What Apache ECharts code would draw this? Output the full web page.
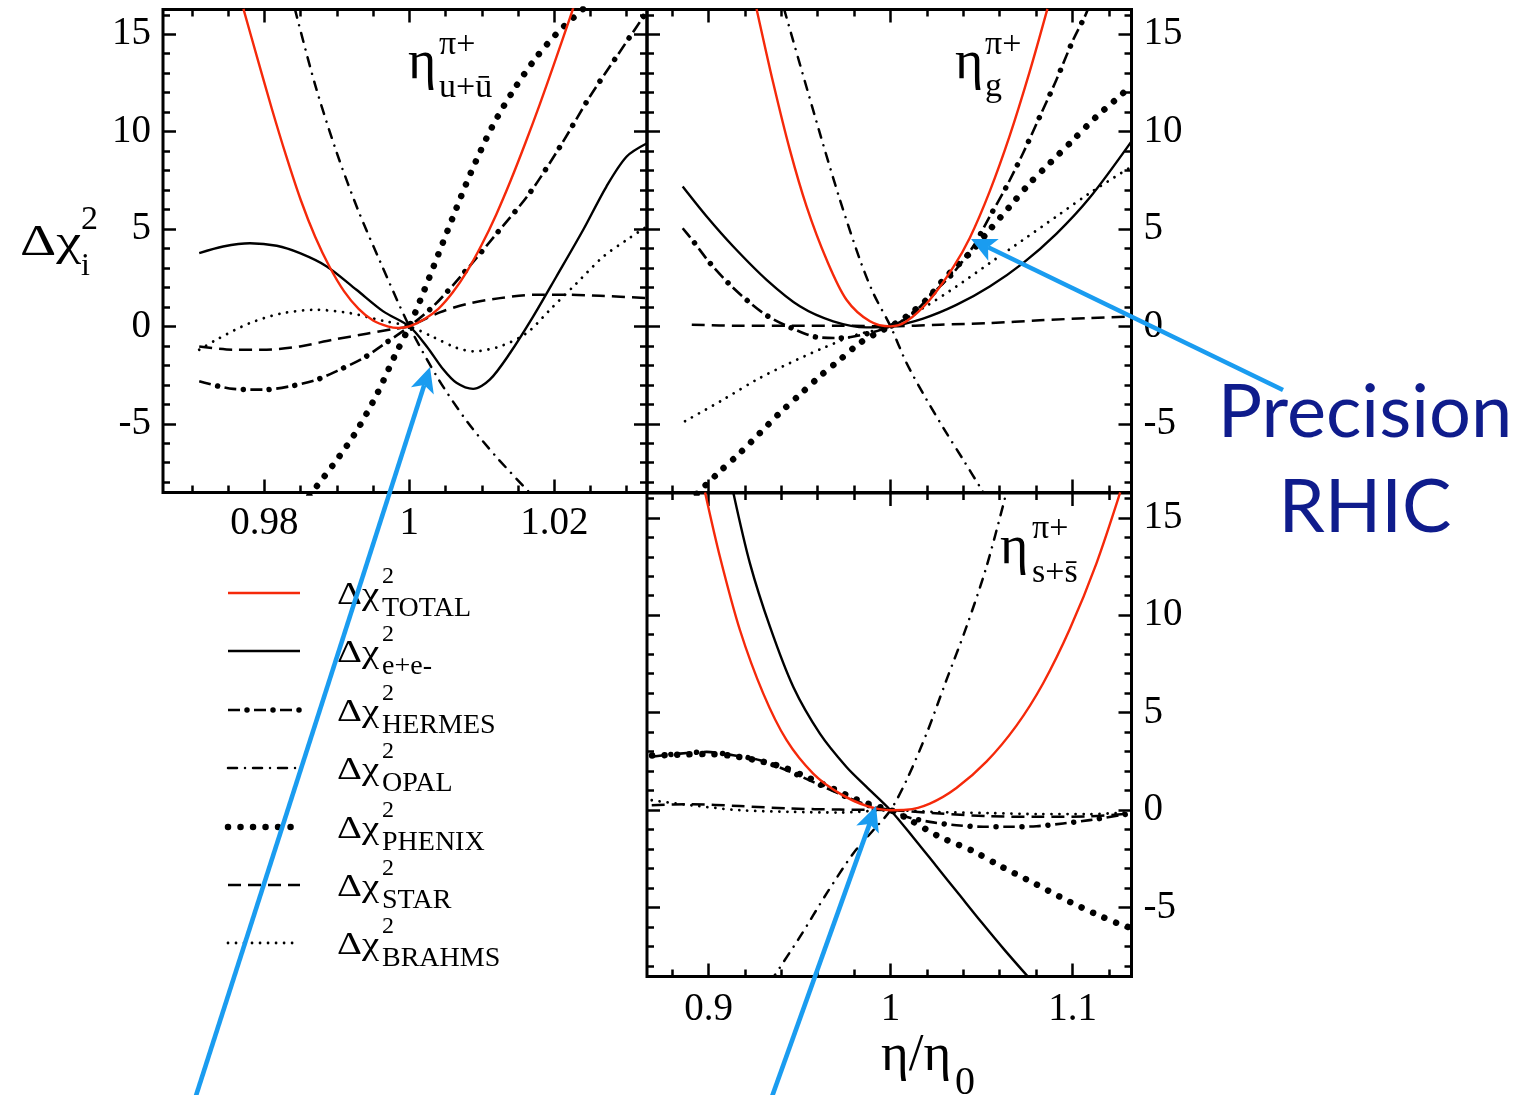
<!DOCTYPE html>
<html><head><meta charset="utf-8">
<script src="https://cdn.jsdelivr.net/npm/echarts@6/dist/echarts.min.js"></script>
<style>html,body{margin:0;padding:0;background:#fff}#c{width:1532px;height:1095px}</style>
</head><body><div id="c"></div><script>
// ---------- tick values / labels ----------
const xTicksU = [0.98, 1, 1.02];
const xTickLabelsU = ['0.98', '1', '1.02'];
const xMinorU = [0.97, 0.975, 0.98, 0.985, 0.99, 0.995, 1, 1.005, 1.01, 1.015, 1.02, 1.025, 1.03];
const xTicksGS = [0.9, 1, 1.1];
const xTickLabelsGS = ['0.9', '1', '1.1'];
const xMinorGS = [0.88, 0.9, 0.92, 0.94, 0.96, 0.98, 1, 1.02, 1.04, 1.06, 1.08, 1.1, 1.12];
const yTicks = [-5, 0, 5, 10, 15];
const yTickLabels = ['-5', '0', '5', '10', '15'];
const yMinor = [-8,-7,-6,-5,-4,-3,-2,-1,0,1,2,3,4,5,6,7,8,9,10,11,12,13,14,15,16];
const legendNames = ['TOTAL', 'e+e-', 'HERMES', 'OPAL', 'PHENIX', 'STAR', 'BRAHMS'];

// ---------- panel 1 : eta_{u+ubar} ----------
const u_total = [[0.9771,16.3],[0.9790,13.8],[0.9810,11.2],[0.9830,8.75],[0.9850,6.5],[0.9870,4.6],[0.9890,3.05],[0.9910,1.8],[0.9930,0.9],[0.9950,0.3],[0.9970,0.0],[0.9985,-0.08],[1.0,0],[1.002,0.35],[1.004,0.9],[1.006,1.75],[1.008,2.85],[1.010,4.2],[1.012,5.75],[1.014,7.5],[1.016,9.4],[1.018,11.4],[1.020,13.5],[1.0224,16.1],[1.0227,16.45]];
const u_ee = [[0.9710,3.76],[0.9743,4.1],[0.9780,4.27],[0.9817,4.14],[0.9849,3.76],[0.9886,3.08],[0.9927,1.88],[0.9964,0.77],[1.0,0],[1.0024,-1.03],[1.0047,-2.22],[1.0065,-2.9],[1.0088,-3.21],[1.0111,-2.74],[1.0139,-1.37],[1.0171,0.51],[1.0203,2.56],[1.0240,4.96],[1.0272,7.18],[1.0300,8.72],[1.0328,9.4]];
const u_hermes = [[0.9710,-2.82],[0.9757,-3.21],[0.9799,-3.25],[0.9835,-3.08],[0.9872,-2.74],[0.9904,-2.22],[0.9937,-1.62],[0.9964,-0.94],[1.0,0],[1.0033,1.03],[1.0075,2.74],[1.0121,4.79],[1.0166,6.84],[1.0208,9.23],[1.0249,11.79],[1.0286,13.85],[1.0323,15.9],[1.0330,16.3]];
const u_opal = [[0.9842,16.3],[0.9870,12.4],[0.9900,8.9],[0.9930,5.9],[0.9960,3.3],[1.0,0],[1.0040,-2.7],[1.0080,-4.9],[1.0120,-6.7],[1.0170,-8.7]];
const u_phenix = [[0.9862,-8.7],[0.9895,-7.1],[0.9925,-5.5],[0.9955,-3.5],[0.9980,-1.5],[1.0,0],[1.0020,1.8],[1.0040,3.7],[1.0060,5.6],[1.0085,7.9],[1.0115,10.3],[1.0145,12.2],[1.0175,13.8],[1.0205,15.1],[1.0240,16.3]];
const u_star = [[0.9710,-1.03],[0.9757,-1.2],[0.9803,-1.2],[0.9849,-1.03],[0.9895,-0.68],[0.9941,-0.38],[0.9975,-0.15],[1.0,0],[1.0020,0.35],[1.0042,0.72],[1.0079,1.15],[1.0125,1.45],[1.0171,1.62],[1.0217,1.62],[1.0263,1.57],[1.0328,1.45]];
const u_brahms = [[0.9710,-1.2],[0.9734,-0.68],[0.9780,0.17],[0.9826,0.68],[0.9872,0.85],[0.9918,0.68],[0.9964,0.28],[1.0,0],[1.0033,-0.55],[1.0065,-1.1],[1.0088,-1.28],[1.0125,-1.03],[1.0162,-0.34],[1.0194,0.85],[1.0231,2.22],[1.0268,3.59],[1.0300,4.44],[1.0328,5.13]];

// ---------- panel 2 : eta_g ----------
const g_total = [[0.9264,16.3],[0.9356,12.48],[0.9447,9.06],[0.9539,6.15],[0.9649,3.42],[0.9758,1.37],[0.9887,0.26],[1.0,0],[1.0088,0.26],[1.0216,1.37],[1.0344,3.03],[1.0436,4.55],[1.0545,6.93],[1.0655,9.79],[1.0765,13.09],[1.0862,16.3]];
const g_ee = [[0.8858,7.18],[0.8990,5.64],[0.9136,4.1],[0.9319,2.39],[0.9502,1.03],[0.9685,0.26],[0.9868,-0.05],[1.0,0],[1.0179,0.4],[1.0362,1.1],[1.0545,2.05],[1.0728,3.25],[1.0911,4.75],[1.1094,6.6],[1.1324,9.5]];
const g_hermes = [[0.8858,5.04],[0.8917,4.36],[0.9008,3.25],[0.9109,2.22],[0.9219,1.28],[0.9328,0.51],[0.9457,-0.085],[0.9594,-0.55],[0.9731,-0.6],[0.9887,-0.34],[1.0,0],[1.0106,0.51],[1.0216,1.54],[1.0344,2.74],[1.0454,4.1],[1.0545,5.64],[1.0637,7.18],[1.0728,8.89],[1.0820,10.77],[1.0911,12.65],[1.1003,14.7],[1.1067,15.9],[1.1085,16.3]];
const g_opal = [[0.9415,16.3],[0.9612,9.91],[0.9722,6.5],[0.9832,3.42],[0.9905,1.71],[1.0,0],[1.0088,-1.88],[1.0198,-3.76],[1.0307,-5.47],[1.0399,-6.84],[1.0500,-8.38],[1.0520,-8.7]];
const g_phenix = [[0.8935,-8.6],[0.9063,-7.44],[0.9173,-6.5],[0.9283,-5.47],[0.9392,-4.44],[0.9502,-3.5],[0.9612,-2.56],[0.9722,-1.71],[0.9832,-0.85],[0.9941,-0.26],[1.0,0],[1.0088,0.51],[1.0198,1.37],[1.0307,2.56],[1.0436,3.76],[1.0545,4.96],[1.0655,6.15],[1.0765,7.35],[1.0875,8.38],[1.1003,9.57],[1.1131,10.77],[1.1277,11.97],[1.1324,12.45]];
const g_star = [[0.8908,0.085],[0.9173,0.03],[0.9447,0.03],[0.9722,0.03],[1.0,0],[1.0271,0.085],[1.0545,0.17],[1.0820,0.31],[1.1094,0.43],[1.1324,0.51]];
const g_brahms = [[0.8871,-4.87],[0.9081,-3.76],[0.9264,-2.74],[0.9447,-1.88],[0.9630,-1.11],[0.9813,-0.43],[1.0,0],[1.0179,0.94],[1.0362,2.05],[1.0545,3.25],[1.0728,4.44],[1.0911,5.64],[1.1094,6.84],[1.1324,8.2]];

// ---------- panel 3 : eta_{s+sbar} ----------
const s_total = [[0.8981,16.3],[0.9063,12.99],[0.9173,9.23],[0.9301,5.98],[0.9429,3.59],[0.9575,1.88],[0.9722,0.85],[0.9868,0.22],[1.0,0],[1.0088,0.02],[1.0216,0.34],[1.0362,1.14],[1.0527,2.49],[1.0692,4.34],[1.0838,6.5],[1.0985,9.29],[1.1131,12.65],[1.1262,16.3]];
const s_ee = [[0.9136,16.3],[0.9228,12.65],[0.9338,9.4],[0.9466,6.32],[0.9612,3.93],[0.9758,2.22],[0.9868,1.2],[1.0,0],[1.0125,-1.4],[1.0250,-2.85],[1.0375,-4.3],[1.0500,-5.75],[1.0625,-7.15],[1.0775,-8.75]];
const s_hermes = [[0.8688,2.74],[0.8807,2.87],[0.8990,2.99],[0.9136,2.82],[0.9283,2.56],[0.9429,2.05],[0.9594,1.37],[0.9758,0.68],[0.9905,0.17],[1.0,0],[1.0088,-0.34],[1.0216,-0.6],[1.0362,-0.77],[1.0509,-0.85],[1.0655,-0.85],[1.0802,-0.82],[1.0948,-0.68],[1.1094,-0.51],[1.1259,-0.26],[1.1324,-0.17]];
const s_opal = [[0.9340,-8.8],[0.9502,-6.5],[0.9649,-4.27],[0.9795,-2.22],[0.9905,-1.03],[1.0,0],[1.0088,1.54],[1.0198,3.93],[1.0307,6.67],[1.0417,9.4],[1.0527,12.48],[1.0637,16.3]];
const s_phenix = [[0.8690,2.8],[0.8844,2.85],[0.8990,2.88],[0.9118,2.8],[0.9264,2.56],[0.9411,2.2],[0.9539,1.7],[0.9685,1.1],[0.9813,0.55],[0.9905,0.25],[1.0,0],[1.0088,-0.4],[1.0271,-1.37],[1.0454,-2.1],[1.0600,-2.85],[1.0792,-3.76],[1.0985,-4.7],[1.1122,-5.3],[1.1250,-5.81],[1.1324,-6.05]];
const s_star = [[0.8688,0.26],[0.8898,0.31],[0.9173,0.21],[0.9447,0.085],[0.9722,0.03],[1.0,0],[1.0271,-0.17],[1.0545,-0.31],[1.0820,-0.34],[1.1094,-0.31],[1.1324,-0.17]];
const s_brahms = [[0.8688,0.51],[0.8898,0.26],[0.9173,0.0],[0.9447,-0.085],[0.9722,-0.12],[1.0,0],[1.0271,-0.1],[1.0545,-0.15],[1.0820,-0.2],[1.1094,-0.2],[1.1324,-0.1]];

// ---------- rendering ----------
const SERIF = '"Liberation Serif", "Times New Roman", serif';
const SANS = 'Lato, "Open Sans", sans-serif';
const RED = '#f5290a', BLUE = '#1a9cf0', NAVY = '#0f1c8c';

const layerStyles = [
  [{color: RED, width: 2.4, type: 'solid'}],
  [{color: '#000', width: 2.4, type: 'solid'}],
  [{color: '#000', width: 2.6, type: [12, 14], cap: 'butt'}, {color: '#000', width: 5.5, type: [0.01, 25.99], cap: 'round', dashOffset: 7}],
  [{color: '#000', width: 2.5, type: [9, 8, 0.01, 8], cap: 'round'}],
  [{color: '#000', width: 6.5, type: [0.01, 12.5], cap: 'round'}],
  [{color: '#000', width: 2.5, type: [13, 7], cap: 'butt'}],
  [{color: '#000', width: 2.8, type: [0.01, 8], cap: 'round'}]
];

const grids = [
  {left: 163, top: 9.5, width: 484, height: 483},
  {left: 647, top: 9.5, width: 484.5, height: 483},
  {left: 647, top: 493, width: 484.5, height: 483.5}
];

const panels = [
  {xmin: 0.966, xmax: 1.0328, xMajor: xTicksU, xMinor: xMinorU, xLab: xTickLabelsU, xMargin: 12, ySide: 'left',
   curves: [u_total, u_ee, u_hermes, u_opal, u_phenix, u_star, u_brahms]},
  {xmin: 0.8662, xmax: 1.1324, xMajor: xTicksGS, xMinor: xMinorGS, xLab: null, xMargin: 12, ySide: 'right',
   curves: [g_total, g_ee, g_hermes, g_opal, g_phenix, g_star, g_brahms]},
  {xmin: 0.8662, xmax: 1.1324, xMajor: xTicksGS, xMinor: xMinorGS, xLab: xTickLabelsGS, xMargin: 14, ySide: 'right',
   curves: [s_total, s_ee, s_hermes, s_opal, s_phenix, s_star, s_brahms]}
];

function fmt(vals, labels) {
  return v => { const i = vals.findIndex(t => Math.abs(t - v) < 1e-9); return i >= 0 ? labels[i] : ''; };
}
function mkAxis(g, pos, min, max, vals, len, labels, margin) {
  const a = {
    gridIndex: g, type: 'value', position: pos, min: min, max: max,
    axisLine: {show: false, onZero: false}, splitLine: {show: false},
    axisTick: {show: true, inside: true, length: len, customValues: vals, lineStyle: {color: '#000', width: 2.5}},
    axisLabel: {show: false}
  };
  if (labels) {
    a.axisLabel = {show: true, customValues: vals, formatter: fmt(vals, labels), margin: margin,
      fontSize: 39, fontFamily: SERIF, color: '#000'};
  }
  return a;
}

const xAxis = [], yAxis = [], series = [];
const YMIN = -8.53, YMAX = 16.27;
panels.forEach((p, g) => {
  xAxis.push(mkAxis(g, 'bottom', p.xmin, p.xmax, p.xMajor, 13, p.xLab, p.xMargin));
  xAxis.push(mkAxis(g, 'bottom', p.xmin, p.xmax, p.xMinor, 7, null));
  xAxis.push(mkAxis(g, 'top', p.xmin, p.xmax, p.xMajor, 13, null));
  xAxis.push(mkAxis(g, 'top', p.xmin, p.xmax, p.xMinor, 7, null));
  const other = p.ySide === 'left' ? 'right' : 'left';
  yAxis.push(mkAxis(g, p.ySide, YMIN, YMAX, yTicks, 13, yTickLabels, 12));
  yAxis.push(mkAxis(g, p.ySide, YMIN, YMAX, yMinor, 7, null));
  yAxis.push(mkAxis(g, other, YMIN, YMAX, yTicks, 13, null));
  yAxis.push(mkAxis(g, other, YMIN, YMAX, yMinor, 7, null));
  p.curves.forEach((data, k) => {
    layerStyles[k].forEach(ls => {
      series.push({
        type: 'line', xAxisIndex: 4 * g, yAxisIndex: 4 * g, data: data,
        showSymbol: false, symbol: 'none', smooth: 0.3, clip: true, silent: true,
        z: k === 0 ? 4 : 3,
        lineStyle: {color: ls.color, width: ls.width, type: ls.type, cap: ls.cap || 'butt', dashOffset: ls.dashOffset || 0, join: 'round'}
      });
    });
  });
});

// ---------- graphics: texts, legend, arrows ----------
const graphic = [];
function txt(x, baseline, s, fs, opts) {
  opts = opts || {};
  const k = opts.k || 0.34;
  graphic.push({type: 'text', z: 100, silent: true, x: x, y: baseline - k * fs, scaleX: opts.sx || 1,
    style: {text: s, x: 0, y: 0, fill: opts.fill || '#000', fontSize: fs, fontFamily: opts.family || SERIF,
      align: opts.align || 'left', verticalAlign: 'middle'}});
}
// y axis name
txt(20, 258, 'Δχ', 44, {sx: 1.28});
txt(81, 232, '2', 34);
txt(81, 277, 'i', 32);
// x axis name
txt(881, 1074, 'η/η', 53);
txt(955, 1097, '0', 40);
// panel labels
txt(408, 82, 'η', 54); txt(439, 57, 'π+', 34); txt(439, 100, 'u+ū', 34);
txt(955, 82, 'η', 54); txt(985, 57, 'π+', 34); txt(985, 99, 'g', 34);
txt(1000, 567, 'η', 54); txt(1032, 541, 'π+', 34); txt(1032, 585, 's+s̄', 34);
// legend
const rowY = [593, 651, 710, 768, 827, 885, 943];
legendNames.forEach((nm, k) => {
  const y = rowY[k];
  layerStyles[k].forEach(ls => {
    graphic.push({type: 'line', z: 100, silent: true,
      shape: {x1: 228, y1: y, x2: 300, y2: y},
      style: {stroke: ls.color, lineWidth: ls.width, lineDash: Array.isArray(ls.type) ? ls.type : null,
        lineDashOffset: ls.dashOffset || 0, lineCap: ls.cap || 'butt'}});
  });
  txt(337, y + 13, 'Δχ', 31, {sx: 1.25});
  txt(382, y - 8, '2', 24);
  txt(382, y + 25, nm, 28);
});
// Precision RHIC
txt(1365, 442, 'Precision', 74, {family: SANS, fill: NAVY, align: 'center', k: 0.387});
txt(1365, 537, 'RHIC', 74, {family: SANS, fill: NAVY, align: 'center', k: 0.387});
// arrows
function arrow(sx, sy, tx, ty) {
  const dx = tx - sx, dy = ty - sy, L = Math.hypot(dx, dy);
  const ux = dx / L, uy = dy / L, nx = -uy, ny = ux;
  const HL = 25, HW = 12, NOTCH = 19;
  graphic.push({type: 'line', z: 110, silent: true,
    shape: {x1: sx, y1: sy, x2: tx - ux * NOTCH, y2: ty - uy * NOTCH},
    style: {stroke: BLUE, lineWidth: 4.6}});
  graphic.push({type: 'polygon', z: 110, silent: true,
    shape: {points: [[tx, ty], [tx - ux * HL + nx * HW, ty - uy * HL + ny * HW],
      [tx - ux * NOTCH, ty - uy * NOTCH], [tx - ux * HL - nx * HW, ty - uy * HL - ny * HW]]},
    style: {fill: BLUE}});
}
arrow(193, 1105, 430, 367);
arrow(769, 1105, 876, 806);
arrow(1283, 390, 971, 239);

const chart = echarts.init(document.getElementById('c'), null, {renderer: 'canvas'});
chart.setOption({
  animation: false,
  backgroundColor: '#fff',
  grid: grids.map(gr => Object.assign({show: true, borderColor: '#000', borderWidth: 3, backgroundColor: 'transparent', containLabel: false}, gr)),
  xAxis: xAxis, yAxis: yAxis, series: series, graphic: graphic
});
</script></body></html>
